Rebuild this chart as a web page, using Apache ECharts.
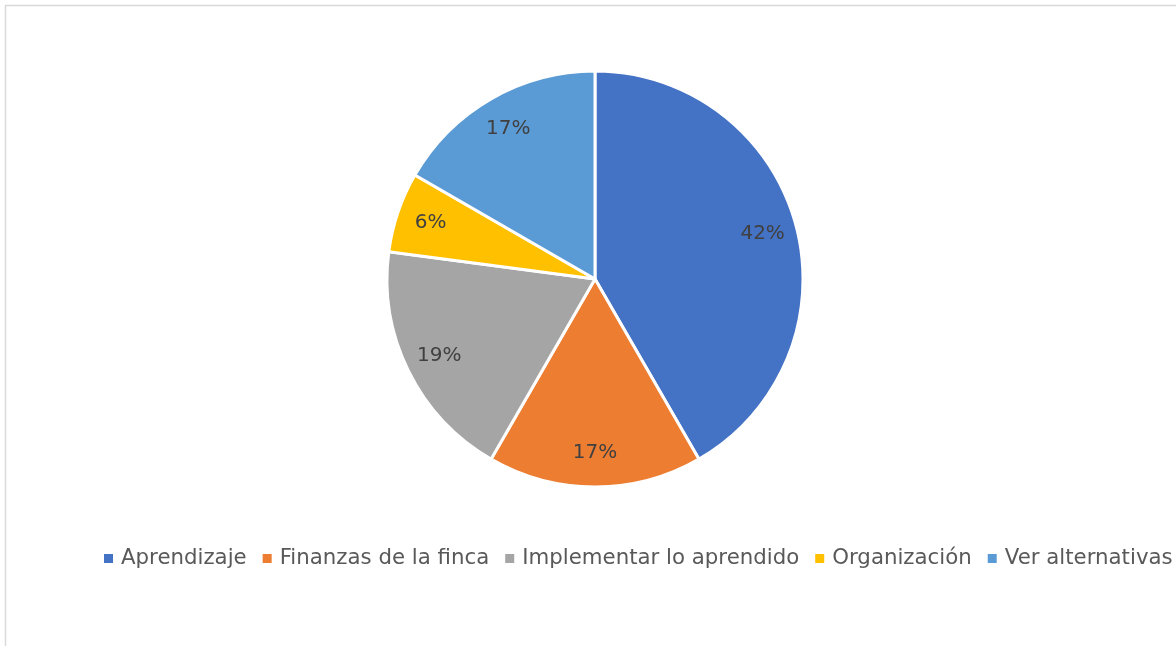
<!DOCTYPE html>
<html>
<head>
<meta charset="utf-8">
<script src="https://cdn.jsdelivr.net/npm/echarts@6/dist/echarts.min.js"></script>
<style>
html,body{margin:0;padding:0;background:#fff;overflow:hidden;width:1176px;height:646px;}
#c{position:absolute;left:0;top:0;width:1300px;height:680px;}
</style>
</head>
<body>
<div id="c"></div>
<script>
const categories = ['Aprendizaje', 'Finanzas de la finca', 'Implementar lo aprendido', 'Organización', 'Ver alternativas'];
const values = [20, 8, 9, 3, 8];
const colors = ['#4472C4', '#ED7D31', '#A5A5A5', '#FFC000', '#5B9BD5'];

const FONT = 'DejaVu Sans';
const data = categories.map((n, i) => ({ name: n, value: values[i], itemStyle: { color: colors[i] } }));
const total = values.reduce((a, b) => a + b, 0);

const chart = echarts.init(document.getElementById('c'), null, { renderer: 'canvas' });
const R = 208;
chart.setOption({
  animation: false,
  backgroundColor: '#fff',
  graphic: [{
    type: 'rect', silent: true,
    shape: { x: 5.5, y: 5.5, width: 1400, height: 800 },
    style: { fill: 'none', stroke: '#d9d9d9', lineWidth: 1.5 }
  }],
  legend: {
    left: 99, top: 543,
    itemWidth: 9, itemHeight: 9, itemGap: 16,
    icon: 'rect',
    itemStyle: { borderWidth: 0 },
    data: categories,
    textStyle: { fontFamily: FONT, fontSize: 21.3, color: '#595959', padding: [0, 0, 0, 3] }
  },
  series: [{
    type: 'pie',
    center: [595, 279],
    radius: [0, R],
    startAngle: 90,
    clockwise: true,
    silent: true,
    label: { show: false },
    labelLine: { show: false },
    itemStyle: { borderColor: '#fff', borderWidth: 3 },
    data: data
  }, {
    type: 'pie',
    center: [595, 279],
    radius: [R * 0.64, R],
    startAngle: 90,
    clockwise: true,
    silent: true,
    itemStyle: { color: 'rgba(0,0,0,0)', borderWidth: 0 },
    label: {
      show: true, position: 'inside',
      fontFamily: FONT, fontSize: 20, color: '#404040',
      formatter: p => Math.round(p.value / total * 100) + '%'
    },
    labelLine: { show: false },
    data: categories.map((n, i) => ({ name: n, value: values[i] }))
  }]
});
</script>
</body>
</html>
